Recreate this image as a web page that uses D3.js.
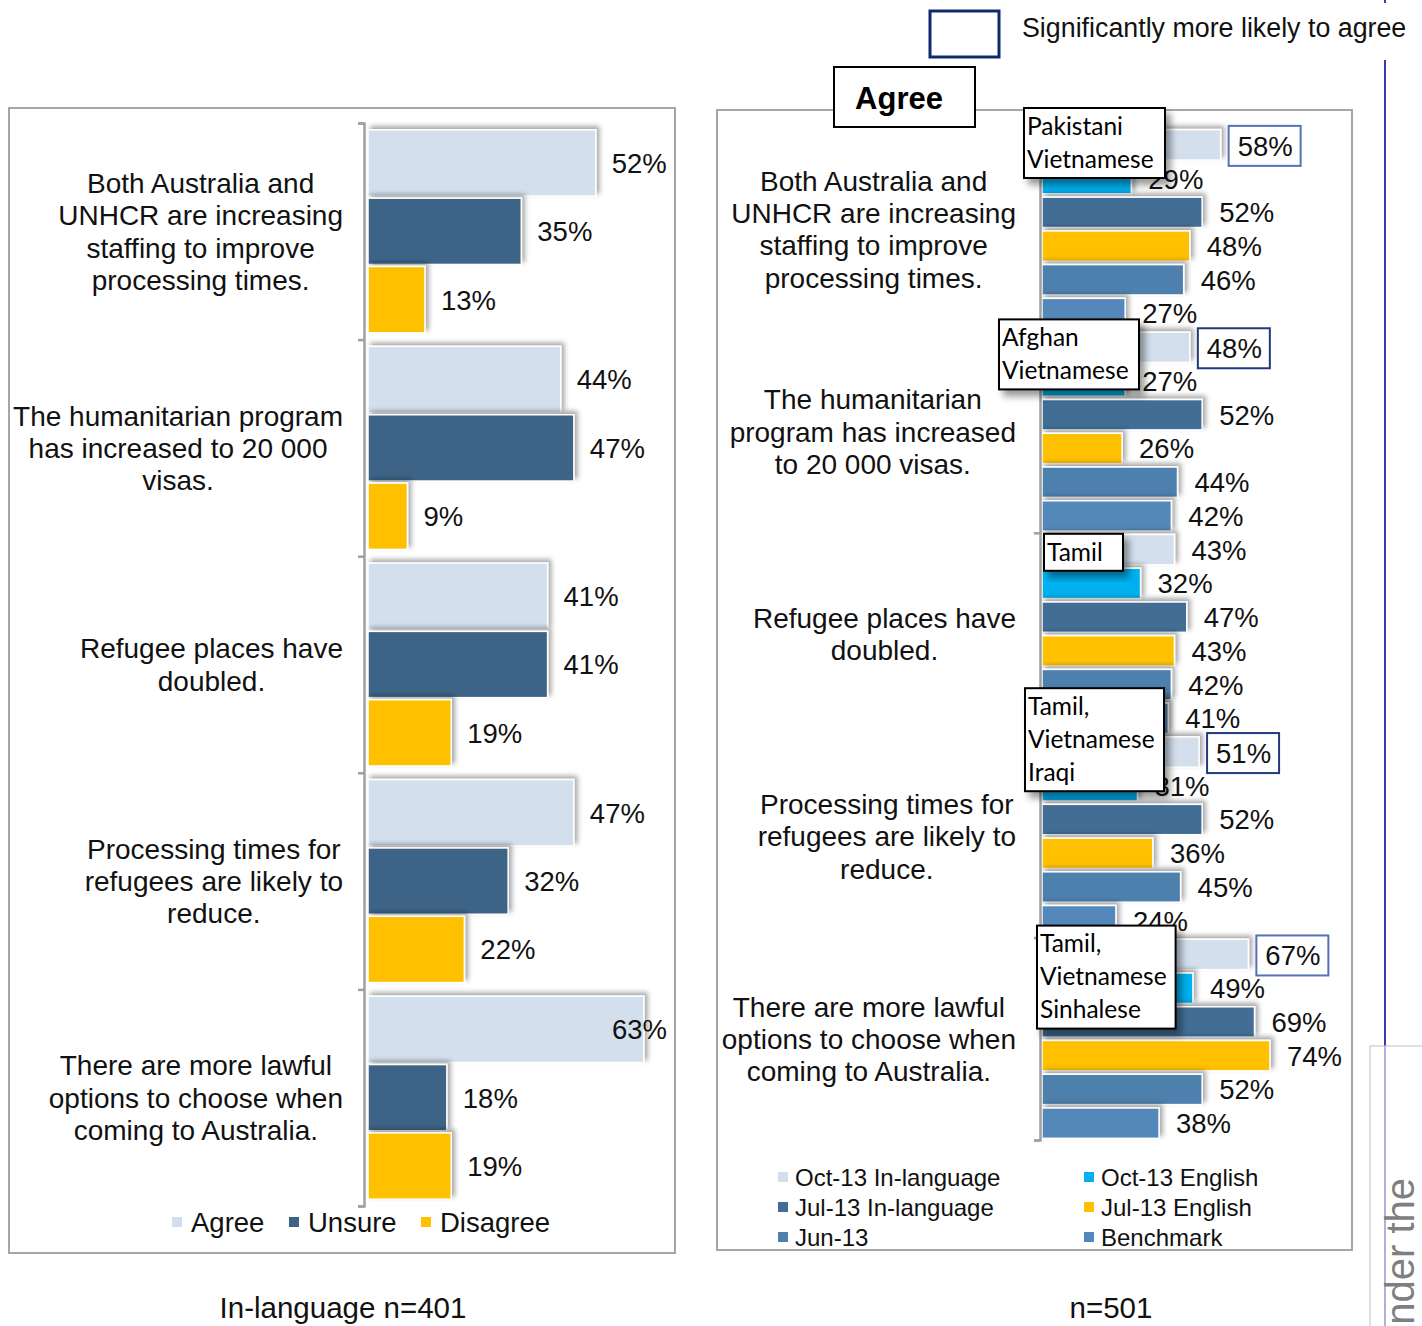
<!DOCTYPE html>
<html><head><meta charset="utf-8">
<script src="https://cdn.jsdelivr.net/npm/d3@7"></script>
<style>
html,body{margin:0;padding:0;background:#fff;}
svg{display:block;font-family:"Liberation Sans",Arial,sans-serif;}
</style></head>
<body>
<svg id="chart" width="1422" height="1326"></svg>
<script>
// ---------------- DATA ----------------
const leftCategories = [
  ["Both Australia and","UNHCR are increasing","staffing to improve","processing times."],
  ["The humanitarian program","has increased to 20 000","visas."],
  ["Refugee places have","doubled."],
  ["Processing times for","refugees are likely to","reduce."],
  ["There are more lawful","options to choose when","coming to Australia."]
];
const leftSeries = ["Agree","Unsure","Disagree"];
const leftAgree    = [52,44,41,47,63];
const leftUnsure   = [35,47,41,32,18];
const leftDisagree = [13, 9,19,22,19];

const rightCategories = [
  ["Both Australia and","UNHCR are increasing","staffing to improve","processing times."],
  ["The humanitarian","program has increased","to 20 000 visas."],
  ["Refugee places have","doubled."],
  ["Processing times for","refugees are likely to","reduce."],
  ["There are more lawful","options to choose when","coming to Australia."]
];
const rightSeries = ["Oct-13 In-language","Oct-13 English","Jul-13 In-language","Jul-13 English","Jun-13","Benchmark"];
const oct13InLanguage = [58,48,43,51,67];
const oct13English    = [29,27,32,31,49];
const jul13InLanguage = [52,52,47,52,69];
const jul13English    = [48,26,43,36,74];
const jun13           = [46,44,42,45,52];
const benchmark       = [27,42,41,24,38];
const significant     = [true,true,false,true,true];
const groupNotes = [
  ["Pakistani","Vietnamese"],
  ["Afghan","Vietnamese"],
  ["Tamil"],
  ["Tamil,","Vietnamese","Iraqi"],
  ["Tamil,","Vietnamese","Sinhalese"]
];
const leftTitle = "In-language n=401";
const rightTitle = "n=501";
const panelTitle = "Agree";
const sigLegend = "Significantly more likely to agree";
const sideText = "nder the";

// ---------------- STYLE / LAYOUT ----------------
const leftColors  = ["#d3dfec","#3e6386","#ffc000"];
const rightColors = ["#d3dfec","#00b0f0","#426e96","#ffc000","#4e80ad","#5488ba"];
const sigStroke   = ["#5572b8","#1f3a78","#1f3a78","#1f3a78","#5572b8"];
const noteLayout  = [{dx:-18,dy:-20,w:141},{dx:-43,dy:-11,w:140},{dx:2,dy:1,w:79},{dx:-17,dy:-47,w:139},{dx:-5,dy:-12,w:138}];

const svg = d3.select("#chart");
const defs = svg.append("defs");
const f1 = defs.append("filter").attr("id","barShadow").attr("x","-10%").attr("y","-30%").attr("width","130%").attr("height","160%");
f1.append("feDropShadow").attr("dx",3).attr("dy",-3).attr("stdDeviation",2.5).attr("flood-color","#000").attr("flood-opacity",0.35);
const f2 = defs.append("filter").attr("id","boxShadow").attr("x","-10%").attr("y","-10%").attr("width","130%").attr("height","140%");
f2.append("feDropShadow").attr("dx",5).attr("dy",6).attr("stdDeviation",3.5).attr("flood-color","#000").attr("flood-opacity",0.4);

// ---------- top-right legend and decorations ----------
svg.append("line").attr("x1",1385).attr("x2",1385).attr("y1",0).attr("y2",3).attr("stroke","#3a3aa8").attr("stroke-width",2);
svg.append("line").attr("x1",1385).attr("x2",1385).attr("y1",60).attr("y2",1326).attr("stroke","#3a3aa8").attr("stroke-width",2);
svg.append("rect").attr("x",1370).attr("y",1046).attr("width",80).attr("height",300)
  .attr("fill","#fff").attr("fill-opacity",0.6).attr("stroke","#c0c0c0").attr("stroke-width",1);
svg.append("text").attr("transform","translate(1414,1178) rotate(-90)").attr("text-anchor","end")
  .attr("font-size",40).attr("fill","#7f7f7f").text(sideText);

svg.append("rect").attr("x",930).attr("y",11).attr("width",69).attr("height",46)
  .attr("fill","#fff").attr("stroke","#0f2a6a").attr("stroke-width",3);
svg.append("text").attr("x",1022).attr("y",37).attr("font-size",26.8).attr("fill","#111").text(sigLegend);

// ================= LEFT PANEL =================
svg.append("rect").attr("x",9).attr("y",108).attr("width",666).attr("height",1145)
  .attr("fill","#fff").attr("stroke","#a6a6a6").attr("stroke-width",2);

const lIdx = d3.range(leftCategories.length);
const lY = d3.scaleBand().domain(lIdx).range([123,1206]).padding(0);
const lYi = d3.scaleBand().domain(leftSeries).range([0,lY.bandwidth()]).paddingInner(0.03).paddingOuter(0.1);
const lX = d3.scaleLinear().domain([0,70]).range([368,674.6]);
const leftVals = [leftAgree,leftUnsure,leftDisagree];

const lg = svg.append("g");
lIdx.forEach(i=>{
  const g = lg.append("g").attr("transform",`translate(0,${lY(i)})`);
  leftSeries.forEach((s,k)=>{
    const v = leftVals[k][i];
    g.append("rect").attr("x",lX(0)).attr("y",lYi(s)).attr("width",lX(v)-lX(0)).attr("height",lYi.bandwidth())
      .attr("fill",leftColors[k]).attr("stroke","#fff").attr("stroke-width",1.5).attr("filter","url(#barShadow)");
  });
});
const lAxis = d3.axisLeft(d3.scaleLinear().domain([0,leftCategories.length]).range([123,1206]))
  .tickValues(d3.range(leftCategories.length+1)).tickSize(6).tickFormat("");
svg.append("g").attr("transform","translate(364,0)").call(lAxis)
  .call(g=>{g.selectAll("line,path").attr("stroke","#a0a0a0").attr("stroke-width",2.5);});
lIdx.forEach(i=>{
  leftSeries.forEach((s,k)=>{
    const v = leftVals[k][i];
    svg.append("text").attr("x",Math.min(lX(v)+16,612)).attr("y",lY(i)+lYi(s)+lYi.bandwidth()/2)
      .attr("dy","0.36em").attr("font-size",27.5).attr("fill","#111").text(v+"%");
  });
});
function catLabel(lines, rightX, cy){
  const g = svg.append("g");
  const lh = 32.3;
  const t = lines.map((l,j)=>g.append("text").attr("y",cy+(j-(lines.length-1)/2)*lh).attr("dy","0.36em")
      .attr("font-size",28).attr("fill","#111").attr("text-anchor","middle").text(l));
  const w = d3.max(t,x=>x.node().getComputedTextLength());
  t.forEach(x=>x.attr("x",rightX-w/2));
}
lIdx.forEach(i=>catLabel(leftCategories[i],343,lY(i)+lY.bandwidth()/2));
const lLeg = [{x:172},{x:289},{x:421}];
leftSeries.forEach((s,k)=>{
  svg.append("rect").attr("x",lLeg[k].x).attr("y",1217).attr("width",10).attr("height",10).attr("fill",leftColors[k]);
  svg.append("text").attr("x",lLeg[k].x+19).attr("y",1222).attr("dy","0.36em").attr("font-size",27.5).attr("fill","#111").text(s);
});
svg.append("text").attr("x",343).attr("y",1318).attr("text-anchor","middle").attr("font-size",29.5).attr("fill","#111").text(leftTitle);

// ================= RIGHT PANEL =================
svg.append("rect").attr("x",717).attr("y",110).attr("width",635).attr("height",1140)
  .attr("fill","#fff").attr("stroke","#a6a6a6").attr("stroke-width",2);

const rIdx = d3.range(rightCategories.length);
const rY = d3.scaleBand().domain(rIdx).range([128,1140]).padding(0);
const rYi = d3.scaleBand().domain(rightSeries).range([0,rY.bandwidth()]).paddingInner(0.1).paddingOuter(0.05);
const rX = d3.scaleLinear().domain([0,100]).range([1042,1350]);
const rightVals = [oct13InLanguage,oct13English,jul13InLanguage,jul13English,jun13,benchmark];

rIdx.forEach(i=>{
  const g = svg.append("g").attr("transform",`translate(0,${rY(i)})`);
  rightSeries.forEach((s,k)=>{
    const v = rightVals[k][i];
    g.append("rect").attr("x",rX(0)).attr("y",rYi(s)).attr("width",rX(v)-rX(0)).attr("height",rYi.bandwidth())
      .attr("fill",rightColors[k]).attr("stroke","#fff").attr("stroke-width",1.5).attr("filter","url(#barShadow)");
  });
});
const rAxis = d3.axisLeft(d3.scaleLinear().domain([0,rightCategories.length]).range([128,1140]))
  .tickValues(d3.range(rightCategories.length+1)).tickSize(6).tickFormat("");
svg.append("g").attr("transform","translate(1040,0)").call(rAxis)
  .call(g=>{g.selectAll("line,path").attr("stroke","#a0a0a0").attr("stroke-width",2.5);});

rIdx.forEach(i=>{
  rightSeries.forEach((s,k)=>{
    const v = rightVals[k][i];
    const cy = rY(i)+rYi(s)+rYi.bandwidth()/2;
    if(k===0 && significant[i]){
      svg.append("rect").attr("x",rX(v)+8).attr("y",cy-19).attr("width",72).attr("height",40)
        .attr("fill","#fff").attr("stroke",sigStroke[i]).attr("stroke-width",2);
      svg.append("text").attr("x",rX(v)+17).attr("y",cy+1).attr("dy","0.36em").attr("font-size",27.5).attr("fill","#111").text(v+"%");
    } else {
      svg.append("text").attr("x",rX(v)+17).attr("y",cy).attr("dy","0.36em").attr("font-size",27.5).attr("fill","#111").text(v+"%");
    }
  });
});
rIdx.forEach(i=>catLabel(rightCategories[i],1016,rY(i)+rY.bandwidth()/2));

rIdx.forEach(i=>{
  const lines = groupNotes[i];
  const bx = rX(0)+noteLayout[i].dx, by = rY(i)+noteLayout[i].dy;
  const g = svg.append("g");
  const r = g.append("rect").attr("x",bx).attr("y",by).attr("height",lines.length*33+4)
    .attr("fill","#fff").attr("stroke","#000").attr("stroke-width",2).attr("filter","url(#boxShadow)");
  const t = lines.map((l,j)=>g.append("text").attr("x",bx+3).attr("y",by+18+j*33).attr("dy","0.36em")
    .attr("font-family","Lato, 'Open Sans', sans-serif").attr("font-size",24.5).attr("fill","#000").text(l));
  const w = d3.max(t,x=>x.node().getComputedTextLength());
  r.attr("width",Math.max(w+12,noteLayout[i].w));
});

svg.append("rect").attr("x",834).attr("y",67).attr("width",141).attr("height",60)
  .attr("fill","#fff").attr("stroke","#000").attr("stroke-width",2);
svg.append("text").attr("x",899).attr("y",98).attr("dy","0.36em").attr("text-anchor","middle")
  .attr("font-size",31).attr("font-weight","bold").attr("fill","#000").text(panelTitle);

const rLegPos = [[778,1177],[1084,1177],[778,1207],[1084,1207],[778,1237],[1084,1237]];
rightSeries.forEach((s,k)=>{
  const [x,y] = rLegPos[k];
  svg.append("rect").attr("x",x).attr("y",y-5).attr("width",10).attr("height",10).attr("fill",rightColors[k]);
  svg.append("text").attr("x",x+17).attr("y",y).attr("dy","0.36em").attr("font-size",24).attr("fill","#111").text(s);
});
svg.append("text").attr("x",1111).attr("y",1318).attr("text-anchor","middle").attr("font-size",29.5).attr("fill","#111").text(rightTitle);
</script>
</body></html>
